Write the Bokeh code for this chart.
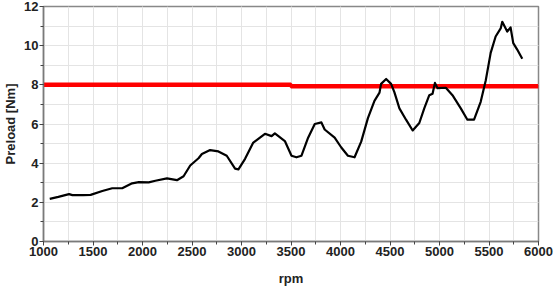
from bokeh.plotting import figure
from bokeh.models import Range1d, FixedTicker
from bokeh.embed import file_html
from bokeh.resources import INLINE

rpm = [1063, 1150, 1258, 1292, 1400, 1476, 1594, 1694, 1795, 1895, 1963, 2063, 2130,
       2247, 2348, 2415, 2482, 2566, 2600, 2683, 2767, 2851, 2935, 2969, 3036, 3119,
       3237, 3304, 3337, 3438, 3505, 3555, 3606, 3673, 3740, 3807, 3840, 3941, 4008,
       4075, 4142, 4209, 4277, 4343, 4394, 4410, 4461, 4511, 4544, 4595, 4662, 4729,
       4796, 4846, 4897, 4930, 4954, 4980, 5064, 5131, 5215, 5282, 5349, 5416, 5467,
       5517, 5567, 5618, 5634, 5684, 5718, 5745, 5785, 5836]
preload = [2.18, 2.28, 2.42, 2.37, 2.37, 2.38, 2.58, 2.72, 2.72, 2.97, 3.03, 3.02, 3.1,
           3.22, 3.13, 3.33, 3.88, 4.25, 4.47, 4.67, 4.6, 4.38, 3.72, 3.68, 4.22, 5.05,
           5.5, 5.38, 5.52, 5.13, 4.38, 4.3, 4.38, 5.3, 6.0, 6.08, 5.72, 5.3, 4.8,
           4.38, 4.3, 5.1, 6.3, 7.18, 7.6, 8.05, 8.3, 8.05, 7.63, 6.8, 6.22, 5.67,
           6.05, 6.8, 7.47, 7.55, 8.1, 7.83, 7.85, 7.47, 6.8, 6.22, 6.22, 7.13, 8.22,
           9.63, 10.47, 10.88, 11.22, 10.72, 10.93, 10.13, 9.8, 9.33]

limit_rpm = [1000, 3500, 3500, 6000]
limit_val = [8.0, 8.0, 7.93, 7.93]

x_ticks = [1000, 1500, 2000, 2500, 3000, 3500, 4000, 4500, 5000, 5500, 6000]
y_ticks = [0, 2, 4, 6, 8, 10, 12]

p = figure(width=554, height=288, output_backend="svg", toolbar_location=None,
           x_range=Range1d(1000, 6000), y_range=Range1d(0, 12),
           min_border_left=41, min_border_right=16, min_border_top=6, min_border_bottom=42)

p.line(limit_rpm, limit_val, line_color="#ff0000", line_width=4.5)
p.line(rpm, preload, line_color="black", line_width=2.2, line_join="round")

p.xaxis.ticker = FixedTicker(ticks=x_ticks, minor_ticks=list(range(1000, 6001, 250)))
p.yaxis.ticker = FixedTicker(ticks=y_ticks, minor_ticks=list(range(0, 13, 1)))

for ax in (p.xaxis[0], p.yaxis[0]):
    ax.major_label_text_font = "Liberation Sans"
    ax.major_label_text_font_style = "bold"
    ax.major_label_text_font_size = "13px"
    ax.major_label_text_color = "#222222"
    ax.axis_label_text_font = "Liberation Sans"
    ax.axis_label_text_font_style = "bold"
    ax.axis_label_text_font_size = "13px"
    ax.axis_label_text_color = "#222222"
    ax.axis_line_color = "#7a7a7a"
    ax.axis_line_width = 1.5
    ax.major_tick_in = 0
    ax.major_tick_out = 4
    ax.minor_tick_in = 0
    ax.minor_tick_out = 3
    ax.major_tick_line_color = "#444444"
    ax.minor_tick_line_color = "#444444"
    ax.major_label_standoff = 1

p.xaxis.axis_label = "rpm"
p.yaxis.axis_label = "Preload [Nm]"
p.xaxis.axis_label_standoff = 12
p.yaxis.axis_label_standoff = 3

p.xgrid.grid_line_color = "#e4e4e4"
p.ygrid.grid_line_color = "#e4e4e4"
p.xgrid.minor_grid_line_color = "#e4e4e4"
p.ygrid.minor_grid_line_color = "#e4e4e4"

p.outline_line_color = "#888888"
p.outline_line_width = 1.5
p.background_fill_color = "white"
p.border_fill_color = "white"

open("out.html", "w").write(file_html(p, INLINE))
